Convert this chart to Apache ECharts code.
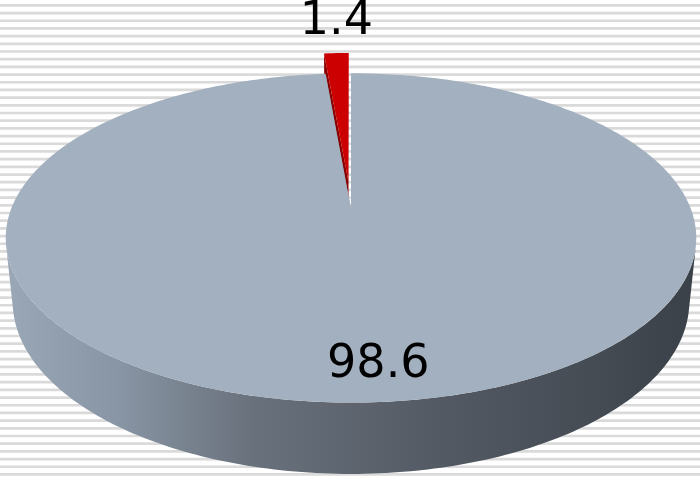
<!DOCTYPE html>
<html>
<head>
<meta charset="UTF-8">
<script src="https://cdn.jsdelivr.net/npm/echarts@6/dist/echarts.min.js"></script>
<style>
  html, body { margin: 0; padding: 0; background: #fff; }
  #main { width: 700px; height: 479px; }
</style>
</head>
<body>
<div id="main"></div>
<script>
var names = ['part', 'rest'];
var values = [1.4, 98.6];
var labels = ['1.4', '98.6'];
var topColors = ['#cc0000', '#a3b0bf'];
var wallColors = ['#8a0000', '#7d8996'];
var explode = [0.036, 0];

// view of the disc (camera distance = 1)
var cx = 351, cy = 209, F = 1708, R = 0.199, H = 0.0425;
var tilt = 28 * Math.PI / 180;
var startDeg = -90; // 12 o'clock = back of the disc

var total = values.reduce(function (a, b) { return a + b; }, 0);
var spans = [];
var cum = 0;
values.forEach(function (v) {
  spans.push([startDeg - (cum + v) / total * 360, startDeg - cum / total * 360]);
  cum += v;
});

function proj(x, y, z) {
  var s = Math.sin(tilt), c = Math.cos(tilt);
  var d = 1 - y * s - z * c;
  return [cx + F * x / d, cy - F * (y * c - z * s) / d];
}

function arc(a0, a1, r, y, ox, oz) {
  var pts = [];
  var n = Math.max(2, Math.ceil(Math.abs(a1 - a0) / 1));
  for (var k = 0; k <= n; k++) {
    var t = (a0 + (a1 - a0) * k / n) * Math.PI / 180;
    pts.push(proj(ox + r * Math.cos(t), y, oz + r * Math.sin(t)));
  }
  return pts;
}

var sideFill = new echarts.graphic.LinearGradient(0, 0, 700, 0, [
  { offset: 0, color: '#9ba8b7' },
  { offset: 0.17, color: '#8895a4' },
  { offset: 0.36, color: '#69717c' },
  { offset: 0.64, color: '#525963' },
  { offset: 0.86, color: '#444b53' },
  { offset: 1, color: '#394047' }
], true);

function renderItem(params, api) {
  var i = params.dataIndex;
  var a0 = spans[i][0], a1 = spans[i][1];
  var mid = (a0 + a1) / 2 * Math.PI / 180;
  var ox = explode[i] * Math.cos(mid), oz = explode[i] * Math.sin(mid);
  var kids = [];

  // radial walls
  [a0, a1].forEach(function (a) {
    var t = a * Math.PI / 180;
    var rx = ox + R * Math.cos(t), rz = oz + R * Math.sin(t);
    kids.push({
      type: 'polygon', z2: 1,
      shape: { points: [proj(ox, 0, oz), proj(rx, 0, rz), proj(rx, -H, rz), proj(ox, -H, oz)] },
      style: { fill: wallColors[i] }
    });
  });

  // outer side, only the part facing the camera
  var lim = Math.asin(R / Math.cos(tilt)) * 180 / Math.PI;
  for (var k = -2; k <= 2; k++) {
    var lo = Math.max(a0 + 360 * k, lim), hi = Math.min(a1 + 360 * k, 180 - lim);
    if (lo < hi) {
      var pts = arc(lo, hi, R, 0, ox, oz).concat(arc(hi, lo, R, -H, ox, oz));
      kids.push({ type: 'polygon', z2: 3, shape: { points: pts }, style: { fill: sideFill } });
    }
  }

  // top face
  var top = [proj(ox, 0, oz)].concat(arc(a0, a1, R, 0, ox, oz));
  kids.push({
    type: 'polygon', z2: i === 0 ? 2 : 4,
    shape: { points: top },
    style: { fill: topColors[i] }
  });

  // label
  var lp;
  if (explode[i] > 0) {
    var p = proj(ox + R * Math.cos(mid), 0, oz + R * Math.sin(mid));
    lp = [p[0], p[1] - 31];
  } else {
    var q = proj(0.82 * R * Math.cos(mid), 0, 0.82 * R * Math.sin(mid));
    lp = [q[0] + 13, q[1] + 3];
  }
  kids.push({
    type: 'text', z2: 5,
    style: {
      text: labels[i], x: lp[0], y: lp[1],
      align: 'center', verticalAlign: 'middle',
      font: '46px "DejaVu Sans"', fill: '#000'
    }
  });

  return { type: 'group', children: kids };
}

// striped backdrop
var stripes = [];
for (var y = 4; y < 479; y += 7.69) {
  stripes.push({
    type: 'rect', z: 0, silent: true,
    shape: { x: 0, y: y, width: 700, height: 2.7 },
    style: { fill: '#dadada' }
  });
}

var myChart = echarts.init(document.getElementById('main'));
myChart.setOption({
  backgroundColor: '#fff',
  animation: false,
  graphic: stripes,
  series: [{
    type: 'custom',
    coordinateSystem: 'none',
    z: 2,
    renderItem: renderItem,
    data: values.map(function (v, i) { return { name: names[i], value: v }; })
  }]
});
</script>
</body>
</html>
